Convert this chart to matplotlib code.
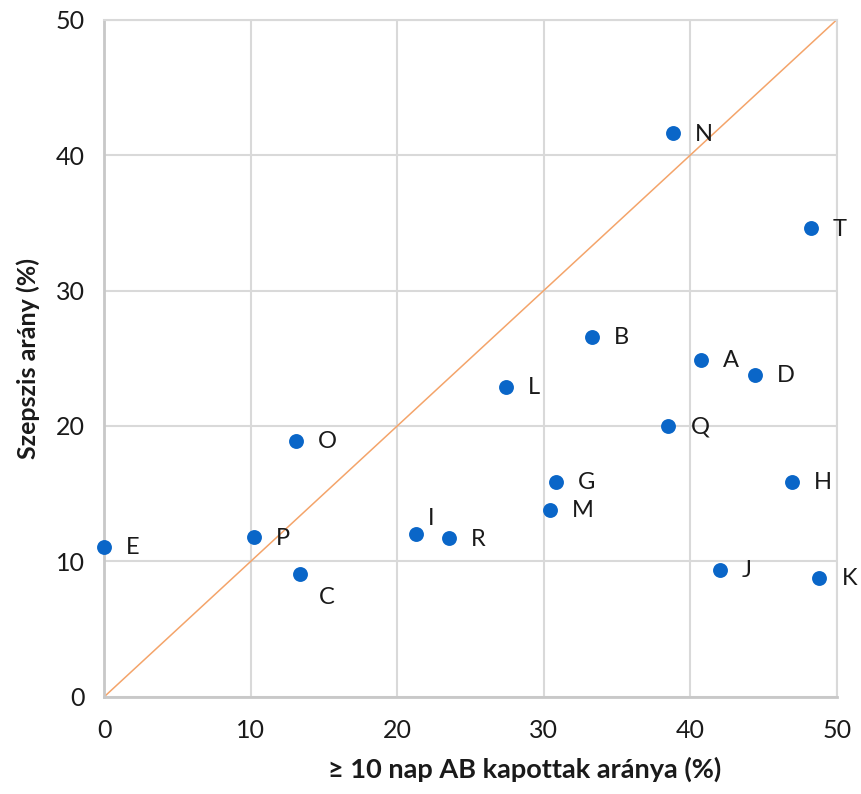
import matplotlib
matplotlib.use("Agg")
import matplotlib.pyplot as plt

# data
labels = ["N", "T", "B", "A", "D", "L", "Q", "O", "G", "H",
          "M", "I", "R", "P", "E", "C", "J", "K"]
ab_share = [38.8, 48.2, 33.3, 40.7, 44.4, 27.4, 38.5, 13.1, 30.8, 46.9,
            30.4, 21.3, 23.5, 10.2, 0.0, 13.4, 42.0, 48.8]
sepsis_share = [41.6, 34.6, 26.6, 24.9, 23.8, 22.9, 20.0, 18.9, 15.9, 15.9,
                13.8, 12.0, 11.7, 11.8, 11.1, 9.1, 9.4, 8.8]
ticks = [0, 10, 20, 30, 40, 50]

# label offsets in pixels (default: to the right)
offsets = {"I": (12, 16), "C": (18, -24)}

plt.rcParams["font.family"] = ["Lato", "DejaVu Sans"]

fig = plt.figure(figsize=(8.61, 7.94), dpi=100)
ax = fig.add_axes([0.1208, 0.1222, 0.8513, 0.8532])

ax.plot([0, 50], [0, 50], color="#f4a46a", lw=1.1, zorder=2)
ax.scatter(ab_share, sepsis_share, s=115, color="#0a66c8", zorder=3,
           clip_on=False, linewidths=0)
for lab, x, y in zip(labels, ab_share, sepsis_share):
    dx, dy = offsets.get(lab, (22, -1))
    ax.annotate(lab, (x, y), xytext=(dx * 0.72, dy * 0.72),
                textcoords="offset points", fontsize=17, color="#1a1a1a",
                ha="left", va="center", zorder=4)

ax.set_xlim(0, 50)
ax.set_ylim(0, 50)
ax.set_xticks(ticks)
ax.set_yticks(ticks)
ax.tick_params(length=0, labelsize=18, colors="#1a1a1a")
ax.tick_params(axis="x", pad=16)
ax.tick_params(axis="y", pad=14)
ax.grid(True, color="#d9d9d9", lw=1.5)
ax.set_axisbelow(True)
for side in ["top", "right"]:
    ax.spines[side].set_color("#d9d9d9")
    ax.spines[side].set_linewidth(1.5)
for side in ["left", "bottom"]:
    ax.spines[side].set_color("#c8c8c8")
    ax.spines[side].set_linewidth(2)

ax.set_xlabel("≥ 10 nap AB kapottak aránya (%)", fontsize=19.5,
              fontweight="bold", color="#1a1a1a")
ax.xaxis.set_label_coords(0.574, -0.088)
ax.set_ylabel("Szepszis arány (%)", fontsize=18, fontweight="bold",
              color="#1a1a1a", labelpad=11)

fig.savefig("out.png", dpi=100, facecolor="white")
